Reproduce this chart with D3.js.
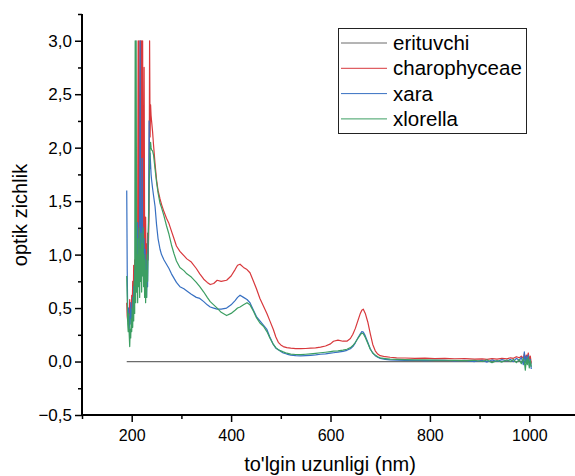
<!DOCTYPE html>
<html>
<head>
<meta charset="utf-8">
<script src="https://cdn.jsdelivr.net/npm/d3@7"></script>
<style>
  html, body { margin: 0; padding: 0; background: #fff; }
  svg { display: block; font-family: "Liberation Sans", Arial, sans-serif; }
</style>
</head>
<body>
<svg id="chart" width="575" height="476"></svg>
<script>
// Wellenlaengen-Raster (nm), gemeinsam fuer alle Proben
const wellenlaenge = [
  190,191,192,193,194,195,196,197,198,199,
  200,201,202,203,204,205,206,207,208,209,
  210,211,212,213,214,215,216,217,218,219,
  220,221,222,223,224,225,226,227,228,229,
  230,231,232,233,234,235,236,237,238,239,
  240,
  242,244,247,250,253,257,260,265,270,275,
  280,285,290,297,305,311,320,330,337,345,
  352,358,365,372,380,391,400,408,413,418,
  425,432,438,445,451,458,465,472,478,485,
  490,495,500,505,512,520,530,540,550,560,
  570,580,590,600,606,615,625,633,640,645,
  650,655,660,663,666,670,675,680,685,690,
  695,700,710,720,733,750,770,790,810,830,
  850,870,890,905,915,925,935,945,955,962,
  968,974,980,984,988,990,992,994,996,998,
  1000,1002,1004
];

// charophyceae
const charophyceae = [
  0.55,0.42,0.38,0.50,0.45,0.40,0.58,0.45,0.52,0.40,
  0.62,0.48,0.75,0.55,0.90,0.65,0.95,0.70,1.05,0.80,
  1.20,0.75,1.30,3.00,1.10,3.00,1.25,0.95,3.00,1.15,
  3.00,1.05,3.00,1.30,1.00,2.75,1.20,0.90,1.35,0.85,
  1.10,0.70,1.20,0.95,1.15,1.40,3.00,2.10,2.40,2.30,
  2.25,
  2.15,2.02,1.85,1.70,1.60,1.52,1.47,1.40,1.34,1.29,
  1.22,1.15,1.08,1.03,0.99,0.96,0.93,0.87,0.82,0.77,
  0.74,0.72,0.73,0.76,0.75,0.76,0.80,0.86,0.90,0.91,
  0.88,0.86,0.83,0.75,0.68,0.59,0.52,0.45,0.38,0.30,
  0.23,0.18,0.155,0.14,0.13,0.125,0.12,0.12,0.122,0.125,
  0.128,0.135,0.145,0.165,0.19,0.20,0.19,0.19,0.215,0.255,
  0.31,0.38,0.45,0.48,0.49,0.45,0.37,0.26,0.16,0.10,
  0.07,0.055,0.045,0.04,0.035,0.033,0.03,0.032,0.028,0.03,
  0.026,0.028,0.022,0.025,0.02,0.028,0.022,0.03,0.025,0.035,
  0.03,0.045,0.035,0.05,0.03,0.075,0.02,0.06,0.04,0.08,
  0.02,0.05,-0.02
];

// xara
const xara = [
  1.60,0.85,0.45,0.38,0.50,0.30,0.42,0.35,0.55,0.40,
  0.48,0.35,0.60,0.45,0.70,0.50,0.85,0.60,1.00,0.75,
  1.20,0.70,1.30,0.85,1.10,0.90,1.25,3.00,1.05,1.20,
  0.80,1.90,1.00,1.25,0.85,1.15,0.75,1.05,0.65,0.95,
  0.60,0.90,0.70,1.10,1.40,2.25,1.80,1.95,1.85,1.75,
  1.70,
  1.62,1.55,1.45,1.28,1.15,1.05,1.00,0.95,0.91,0.87,
  0.82,0.78,0.74,0.70,0.68,0.66,0.63,0.60,0.59,0.56,
  0.53,0.51,0.50,0.49,0.49,0.50,0.53,0.57,0.60,0.62,
  0.60,0.58,0.55,0.48,0.42,0.38,0.34,0.30,0.23,0.16,
  0.125,0.11,0.095,0.08,0.07,0.06,0.055,0.053,0.055,0.058,
  0.062,0.068,0.072,0.078,0.082,0.088,0.095,0.105,0.12,0.14,
  0.175,0.22,0.26,0.28,0.275,0.24,0.18,0.12,0.08,0.055,
  0.04,0.03,0.02,0.015,0.012,0.01,0.012,0.008,0.01,0.012,
  0.005,0.01,0.0,0.012,-0.005,0.015,0.0,0.018,0.005,0.02,
  0.0,0.03,0.01,0.04,-0.03,0.09,-0.01,0.05,0.0,0.06,
  -0.04,0.02,-0.07
];

// xlorella
const xlorella = [
  0.80,0.60,0.35,0.28,0.45,0.25,0.14,0.30,0.22,0.40,
  0.28,0.50,0.32,0.60,0.38,0.75,0.45,3.00,0.55,3.00,
  0.65,1.00,0.55,1.15,0.70,1.25,0.60,1.05,0.75,1.20,
  0.65,1.10,0.80,1.25,0.70,1.00,0.60,0.95,0.55,0.85,
  0.60,1.00,0.75,1.10,1.30,1.60,1.85,2.00,2.05,2.00,
  1.98,
  1.97,1.93,1.80,1.68,1.58,1.48,1.44,1.36,1.27,1.19,
  1.09,1.01,0.94,0.88,0.85,0.82,0.79,0.74,0.70,0.65,
  0.60,0.56,0.53,0.50,0.46,0.43,0.45,0.48,0.50,0.51,
  0.53,0.55,0.53,0.47,0.41,0.36,0.33,0.28,0.22,0.16,
  0.13,0.11,0.10,0.09,0.078,0.07,0.066,0.065,0.068,0.072,
  0.077,0.082,0.087,0.093,0.097,0.10,0.107,0.115,0.13,0.15,
  0.18,0.215,0.25,0.265,0.26,0.225,0.17,0.115,0.08,0.06,
  0.045,0.035,0.028,0.022,0.02,0.018,0.016,0.015,0.014,0.012,
  0.01,0.008,0.012,0.0,0.015,-0.01,0.01,-0.005,0.015,0.0,
  0.02,-0.01,0.02,-0.02,0.03,0.0,-0.08,0.02,-0.03,0.04,
  -0.06,0.01,-0.05
];

// erituvchi (Basislinie)
const erituvchiNm = [190, 1004];
const erituvchi = [0, 0];

const yTicks = [-0.5, 0, 0.5, 1, 1.5, 2, 2.5, 3];
const yMinor = [-0.25, 0.25, 0.75, 1.25, 1.75, 2.25, 2.75, 3.25];
const xTicks = [200, 400, 600, 800, 1000];
const xMinor = [100, 300, 500, 700, 900, 1100];

const series = [
  { name: 'erituvchi', x: erituvchiNm, y: erituvchi, color: '#6b6b6b' },
  { name: 'charophyceae', x: wellenlaenge, y: charophyceae, color: '#d8383c' },
  { name: 'xara', x: wellenlaenge, y: xara, color: '#3770c2' },
  { name: 'xlorella', x: wellenlaenge, y: xlorella, color: '#3c9e62' }
];

const svg = d3.select('#chart');

// Skalen
const xScale = d3.scaleLinear().domain([100, 1100]).range([82, 579]);
const yScale = d3.scaleLinear().domain([-0.5, 3.25]).range([415, 14]);

const fmt = d => d3.format('.1f')(d).replace('.', ',').replace('-', '\u2212');

// Linien
const line = d3.line()
  .x(d => xScale(d[0]))
  .y(d => yScale(d[1]));

series.forEach(s => {
  const pts = s.x.map((v, i) => [v, s.y[i]]);
  svg.append('path')
    .datum(pts)
    .attr('d', line)
    .style('fill', 'none')
    .style('stroke', s.color)
    .style('stroke-width', 1.2)
    .style('stroke-linejoin', 'round');
});

// Achsen
const yAxis = d3.axisLeft(yScale).tickValues(yTicks).tickFormat(fmt).tickSize(7).tickPadding(3);
const yAxisMinor = d3.axisLeft(yScale).tickValues(yMinor).tickFormat('').tickSize(4);
const xAxis = d3.axisBottom(xScale).tickValues(xTicks).tickFormat(d3.format('d')).tickSize(7).tickPadding(8);
const xAxisMinor = d3.axisBottom(xScale).tickValues(xMinor).tickFormat('').tickSize(4);

function styleAxis(g, size) {
  g.select('.domain').remove();
  g.selectAll('line').style('stroke', '#000').style('stroke-width', 1.5);
  g.selectAll('text').style('font-size', size + 'px').style('fill', '#000');
}

svg.append('g').attr('transform', 'translate(82,0)').call(yAxis).call(styleAxis, 17);
svg.append('g').attr('transform', 'translate(82,0)').call(yAxisMinor).call(styleAxis, 17);
svg.append('g').attr('transform', 'translate(0,415)').call(xAxis).call(styleAxis, 16);
svg.append('g').attr('transform', 'translate(0,415)').call(xAxisMinor).call(styleAxis, 16);

svg.append('line')
  .attr('x1', 82).attr('x2', 82)
  .attr('y1', yScale(3.25)).attr('y2', 416)
  .style('stroke', '#000').style('stroke-width', 2);
svg.append('line')
  .attr('x1', 81).attr('x2', 575)
  .attr('y1', 415).attr('y2', 415)
  .style('stroke', '#000').style('stroke-width', 2);

// Achsentitel
svg.append('text')
  .attr('transform', 'translate(27,215) rotate(-90)')
  .attr('text-anchor', 'middle')
  .style('font-size', '20px')
  .style('fill', '#000')
  .text('optik zichlik');

svg.append('text')
  .attr('x', 330)
  .attr('y', 471)
  .attr('text-anchor', 'middle')
  .style('font-size', '20px')
  .style('fill', '#000')
  .text("to'lgin uzunligi (nm)");

// Legende
const legend = svg.append('g').attr('class', 'legend');
legend.append('rect')
  .attr('x', 338.5).attr('y', 28.5)
  .attr('width', 188).attr('height', 105)
  .style('fill', '#fff')
  .style('stroke', '#222')
  .style('stroke-width', 1);

series.forEach((s, i) => {
  const y = 43 + i * 25.3;
  legend.append('line')
    .attr('x1', 341).attr('x2', 387)
    .attr('y1', y).attr('y2', y)
    .style('stroke', s.color)
    .style('stroke-width', 1);
  legend.append('text')
    .attr('x', 393)
    .attr('y', y + 7)
    .style('font-size', '20.5px')
    .style('fill', '#000')
    .text(s.name);
});
</script>
</body>
</html>
